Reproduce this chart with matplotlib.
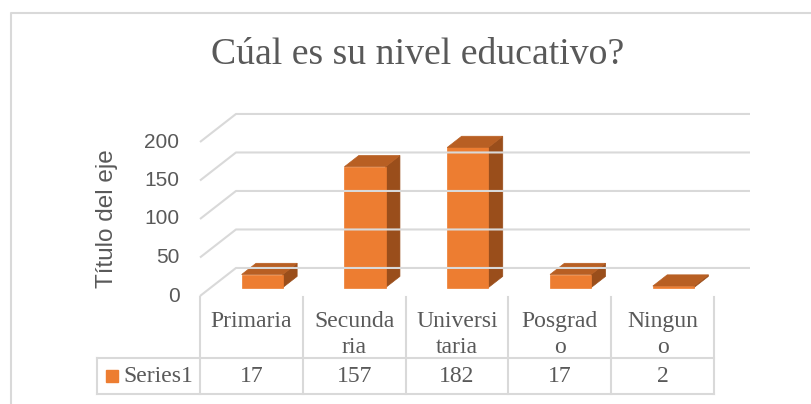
import numpy as np
import matplotlib
matplotlib.use('Agg')
import matplotlib.pyplot as plt
from matplotlib.patches import Polygon

# data
categories = ["Primaria", "Secundaria", "Universitaria", "Posgrado", "Ninguno"]
header_labels = ["Primaria", "Secunda\nria", "Universi\ntaria", "Posgrad\no", "Ningun\no"]
values = [17, 157, 182, 17, 2]
series_name = "Series1"
yticks = [0, 50, 100, 150, 200]

W, H = 811, 404
fig = plt.figure(figsize=(W / 100, H / 100), dpi=100)

front_c = '#ED7D31'
top_c = '#B85F23'
side_c = '#9A4E1B'
grid_c = '#D9D9D9'
text_c = '#595959'

# chart border
bord = fig.add_axes([0, 0, 1, 1])
bord.set_xlim(0, W)
bord.set_ylim(H, 0)
bord.axis('off')
bord.plot([10.5, 10.5, W], [H, 12.5, 12.5], color=grid_c, lw=1.5)

fig.text(418 / W, 1 - 55 / H, "Cúal es su nivel educativo?", ha='center', va='center',
         fontsize=27.2, family='Liberation Serif', color=text_c)

# front plane of the 3D plot
x0p, x1p, y0p, y1p = 200, 714, 296, 142
ax = fig.add_axes([x0p / W, 1 - y0p / H, (x1p - x0p) / W, (y0p - y1p) / H])
ax.set_xlim(0, len(values))
ax.set_ylim(0, 200)
ax.axis('off')

DX = 0.35   # depth offset in category units
DV = 36.4   # depth offset in value units

def P(x, v, f):
    return (x + DX * f, v + DV * f)

n = len(values)
for t in yticks:
    xs = [0, DX, n + DX]
    ys = [t, t + DV, t + DV]
    ax.plot(xs, ys, color=grid_c, lw=1.5, clip_on=False, solid_capstyle='butt')
    ax.text(-0.2, t, str(t), ha='right', va='center', fontsize=15,
            family='Liberation Sans', color=text_c, clip_on=False)

ax.text(-0.9, 100, "Título del eje", rotation=90, ha='center', va='center',
        fontsize=17.5, family='Liberation Sans', color=text_c)

bw, f0, f1 = 0.4, 0.3, 0.7
for i, v in enumerate(values):
    a = i + (1 - bw) / 2
    b = a + bw
    front = [P(a, 0, f0), P(b, 0, f0), P(b, v, f0), P(a, v, f0)]
    top = [P(a, v, f0), P(b, v, f0), P(b, v, f1), P(a, v, f1)]
    side = [P(b, 0, f0), P(b, 0, f1), P(b, v, f1), P(b, v, f0)]
    for poly, c in [(side, side_c), (front, front_c), (top, top_c)]:
        ax.add_patch(Polygon(poly, closed=True, facecolor=c, edgecolor=c, lw=0.5, clip_on=False))

# data table
ty0, ty1 = 394, 297
tab = fig.add_axes([97.4 / W, 1 - ty0 / H, (x1p - 97.4) / W, (ty0 - ty1) / H])
tab.set_xlim(-1, n)
tab.set_ylim(ty0, ty1)
tab.axis('off')
row_y = 358
for k in range(n + 1):
    tab.plot([k, k], [ty1, ty0], color=grid_c, lw=1.5, clip_on=False)
tab.plot([-1, -1], [row_y, ty0], color=grid_c, lw=1.5, clip_on=False)
tab.plot([-1, n], [row_y, row_y], color=grid_c, lw=1.5, clip_on=False)
tab.plot([-1, n], [ty0, ty0], color=grid_c, lw=1.5, clip_on=False)

for k, (lab, v) in enumerate(zip(header_labels, values)):
    tab.text(k + 0.5, 311, lab, ha='center', va='top', fontsize=17, family='Liberation Serif',
             color=text_c, linespacing=1.3)
    tab.text(k + 0.5, 376.5, str(v), ha='center', va='center', fontsize=17,
             family='Liberation Serif', color=text_c)

tab.plot([-0.86], [376], marker='s', ms=8, color=front_c, clip_on=False)
tab.text(-0.75, 376.5, series_name, ha='left', va='center', fontsize=17,
         family='Liberation Serif', color=text_c)

fig.savefig('out.png', dpi=100)
